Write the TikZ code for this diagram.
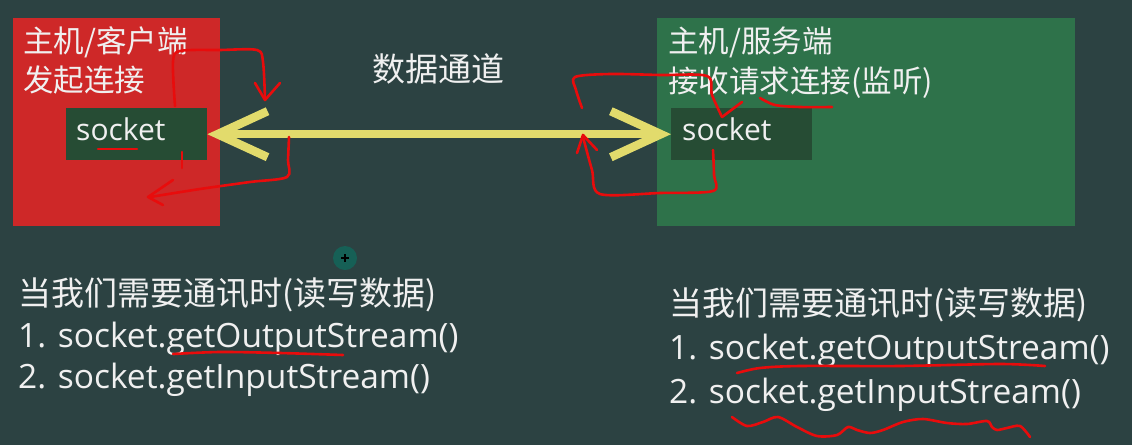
\documentclass[tikz,border=0pt]{standalone}
\usepackage{fontspec}
\setmainfont{Noto Sans CJK SC}
\newfontfamily\codefont{Open Sans}
\usetikzlibrary{arrows.meta}

\definecolor{bgslate}{RGB}{44,66,66}
\definecolor{clientred}{RGB}{206,40,40}
\definecolor{servergreen}{RGB}{46,114,74}
\definecolor{sockdark}{RGB}{38,76,52}
\definecolor{chanyellow}{RGB}{226,219,108}
\definecolor{inkred}{RGB}{232,12,12}
\definecolor{cursorteal}{RGB}{22,96,86}

\tikzset{
	hostbox/.style={inner sep=0pt, anchor=north west, minimum width=418pt, minimum height=208pt},
	sockbox/.style={fill=sockdark, inner sep=0pt, anchor=north west, minimum width=141pt, minimum height=52pt},
	title/.style={anchor=base west, inner sep=0pt, font=\fontsize{30.5pt}{36pt}\selectfont},
	sockname/.style={anchor=base west, inner sep=0pt, font=\codefont\fontsize{30pt}{36pt}\selectfont},
	hint/.style={anchor=base west, inner sep=0pt, font=\fontsize{33pt}{40pt}\selectfont},
	codeline/.style={anchor=base west, inner sep=0pt, font=\codefont\fontsize{33.5pt}{40pt}\selectfont},
	channel/.style={draw=chanyellow, line width=8.5pt,
		{Straight Barb[length=50pt, width=46pt]}-{Straight Barb[length=50pt, width=46pt]}},
	ink/.style={draw=inkred, line width=2.6pt, line cap=round, line join=round}
}

\begin{document}
\begin{tikzpicture}[x=1pt, y=-1pt, every node/.style={text=white!94!black}]
	\fill[bgslate] (0,0) rectangle (1132,445);

	% the two hosts
	\node[hostbox, fill=clientred, minimum width=207pt] (client) at (13,18) {};
	\node[hostbox, fill=servergreen] (server) at (657,18) {};
	\node[sockbox] (csock) at (66,108) {};
	\node[sockbox] (ssock) at (671,108) {};

	\node[title] (ctitle) at (23,52) {主机/客户端};
	\node[title] (cjob) at (23,91) {发起连接};
	\node[title] (stitle) at (668,52) {主机/服务端};
	\node[title] (sjob) at (668,92) {接收请求连接(监听)};
	\node[sockname] (cname) at (76,140) {socket};
	\node[sockname] (sname) at (682,140) {socket};

	% data channel
	\draw[channel] (csock.east) -- (ssock.west);
	\node[hint] (chan) at (372,81) {数据通道};

	% reading and writing
	\node[hint] (lhint) at (18,305) {当我们需要通讯时(读写数据)};
	\node[codeline] (lout) at (18,347) {1. socket.getOutputStream()};
	\node[codeline] (lin) at (18,388) {2. socket.getInputStream()};
	\node[hint] (rhint) at (669,315) {当我们需要通讯时(读写数据)};
	\node[codeline] (rout) at (669,359) {1. socket.getOutputStream()};
	\node[codeline] (rin) at (669,403) {2. socket.getInputStream()};

	% hand marks
	\draw[ink] plot[smooth] coordinates {(175,106) (173,62) (180,51) (220,50) (257,50) (263,62) (265,99)};
	\draw[ink] (255,83) -- (265,100) -- (280,83);
	\draw[ink] (182,152) -- (182,168);
	\draw[ink] plot[smooth] coordinates {(289,137) (288,160) (287,177) (250,182) (200,189) (150,197)};
	\draw[ink] (173,180) -- (148,197) -- (163,205);
	\draw[ink] (98,149) -- (137,149);

	\draw[ink] plot[smooth] coordinates {(582,108) (576,90) (575,77) (610,74) (660,75) (707,76) (712,95) (722,117)};
	\draw[ink] (742,102) -- (722,117);
	\draw[ink] plot[smooth] coordinates {(760,98) (775,105) (800,107) (832,107)};
	\draw[ink] plot[smooth] coordinates {(713,150) (714,175) (713,191) (660,193) (600,194) (592,170) (583,137)};
	\draw[ink] (577,153) -- (583,135) -- (597,150);

	\draw[ink] plot[smooth] coordinates {(173,354) (220,352) (280,353) (343,355)};
	\draw[ink] plot[smooth] coordinates {(737,373) (760,368) (800,366) (900,366) (1000,364) (1045,366)};
	\draw[ink] plot[smooth] coordinates {(732,417) (747,426) (763,422) (778,417) (797,427) (817,436) (837,435) (848,427) (857,430) (870,433) (883,430) (903,422) (923,419) (947,423) (967,424) (987,421) (992,427) (997,430) (1007,428) (1020,426) (1030,437)};

	% mouse pointer
	\fill[cursorteal] (345,258) circle (12);
	\draw[black, line width=1.2pt] (341,258) -- (349,258) (345,254) -- (345,262);
\end{tikzpicture}
\end{document}
